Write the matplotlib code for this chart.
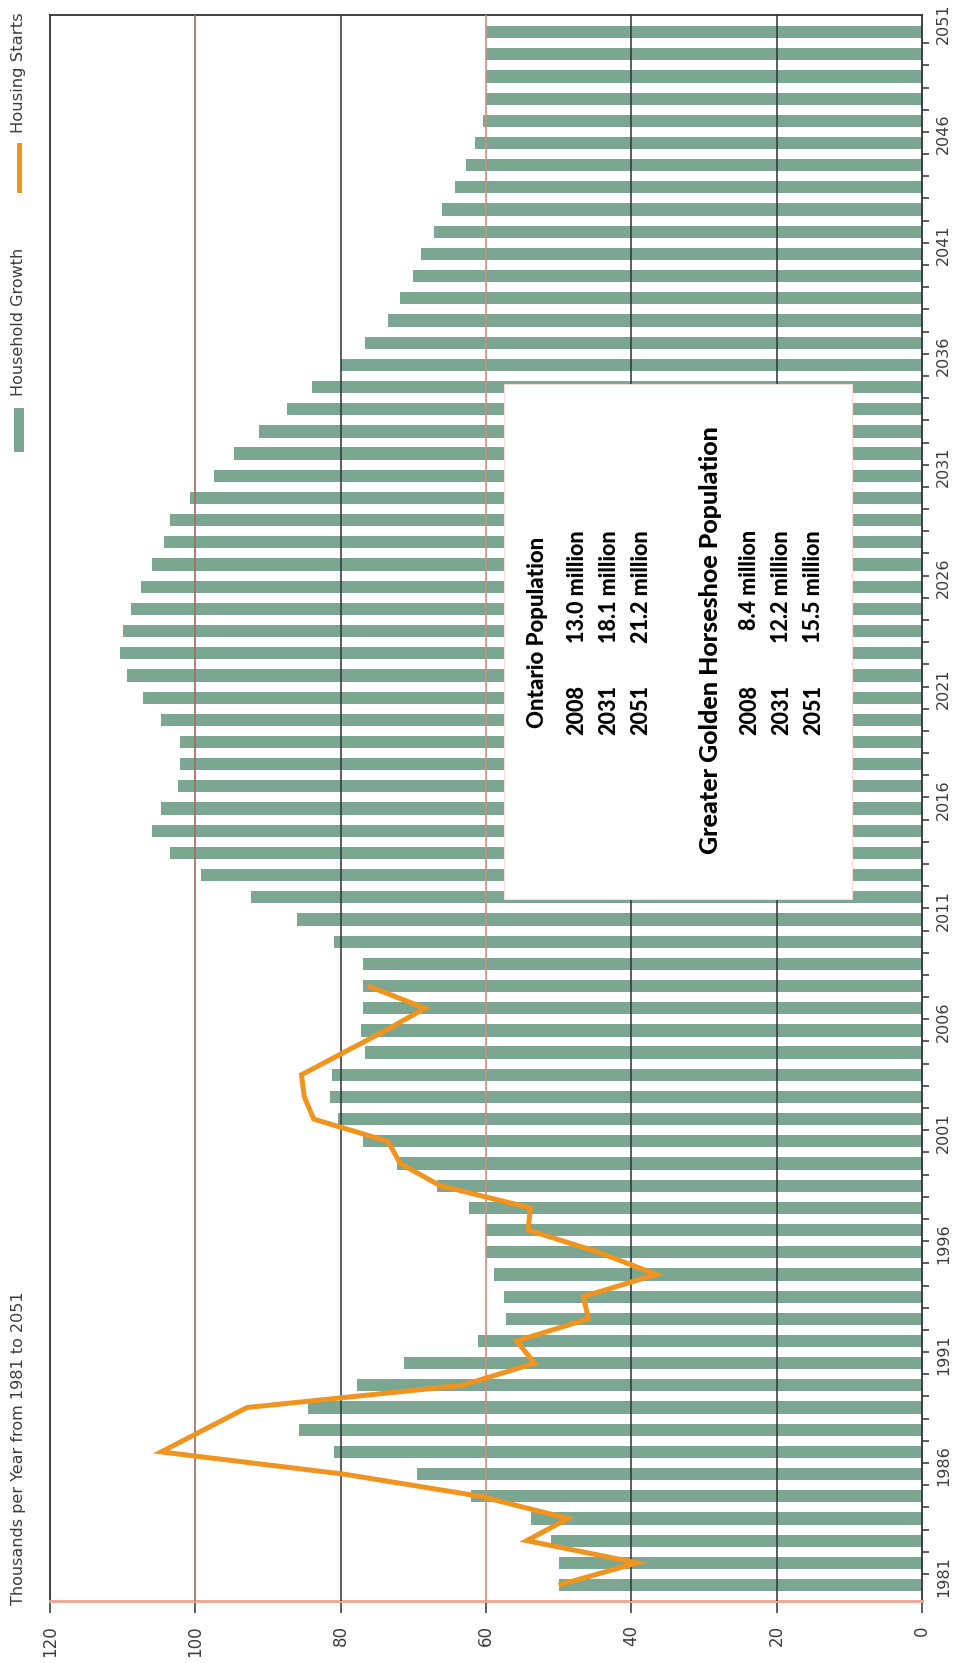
import matplotlib
matplotlib.use('Agg')
import matplotlib.pyplot as plt
from matplotlib.patches import Rectangle
from matplotlib.lines import Line2D
import numpy as np

# household growth, thousands per year, 1981-2051
years = list(range(1981, 2052))
growth = [50.0, 49.9, 51.0, 53.8, 62.1, 69.5, 80.9, 85.7, 84.5, 77.8,
          71.3, 61.1, 57.2, 57.5, 58.9, 60.0, 60.0, 62.4, 66.7, 72.3,
          76.9, 80.3, 81.4, 81.2, 76.7, 77.2, 76.9, 76.9, 76.9, 80.9,
          86.0, 92.4, 99.2, 103.5, 106.0, 104.7, 102.4, 102.1, 102.1, 104.7,
          107.2, 109.4, 110.3, 110.0, 108.9, 107.5, 106.0, 104.3, 103.5, 100.7,
          97.5, 94.7, 91.3, 87.4, 84.0, 79.9, 76.7, 73.5, 71.8, 70.1,
          69.0, 67.1, 66.0, 64.2, 62.8, 61.5, 60.4, 60.0, 60.0, 60.0,
          60.0]

# housing starts, thousands per year, 1981-2008
hs_years = list(range(1981, 2009))
starts = [50.0, 39.2, 54.4, 48.7, 60.8, 79.6, 104.7, 98.8, 92.9, 63.3,
          53.3, 55.8, 45.9, 46.6, 36.6, 44.5, 54.2, 53.9, 66.3, 71.8,
          73.5, 83.7, 85.0, 85.4, 79.6, 73.8, 68.4, 76.2]

year_labels = list(range(1981, 2052, 5))
value_ticks = [0, 20, 40, 60, 80, 100, 120]

ontario_rows = [('2008', '13.0 million'), ('2031', '18.1 million'), ('2051', '21.2 million')]
ggh_rows = [('2008', '8.4 million'), ('2031', '12.2 million'), ('2051', '15.5 million')]

W, H = 966, 1663
GREEN = '#7aa692'
ORANGE = '#f0941f'
DARK = '#2e3338'
TXT = '#3c3c3c'

fig = plt.figure(figsize=(W / 100, H / 100), dpi=100)
fig.patch.set_facecolor('white')


def fx(px):
    return px / W


def fy(py):
    return 1 - py / H


ax = fig.add_axes([fx(50), fy(1601), fx(922) - fx(50), fy(15) - fy(1601)])

ax.barh(years, growth, height=0.55, color=GREEN, zorder=2)
ax.plot(starts, hs_years, color=ORANGE, linewidth=3.6, zorder=4,
        solid_joinstyle='miter', solid_capstyle='butt')

ax.set_xlim(120, 0)
ax.set_ylim(1980.28, 2051.77)

# gridlines drawn over the bars
for v in [20, 40, 80]:
    ax.axvline(v, color=DARK, linewidth=1.1, zorder=3)
ax.axvline(60, color='#d98b78', linewidth=1.2, zorder=3)
ax.axvline(100, color='#9e6c60', linewidth=1.2, zorder=3)

# white text panel over the bars
ax.add_patch(Rectangle((9.6, 2011.93), 47.9, 23.21, facecolor='white',
                       edgecolor='#f4ddd2', linewidth=0.8, zorder=5))

for side in ['top', 'left', 'right']:
    ax.spines[side].set_color(DARK)
    ax.spines[side].set_linewidth(1.3)
ax.spines['bottom'].set_color('#f0a58e')
ax.spines['bottom'].set_linewidth(2)

ax.set_xticks(value_ticks)
ax.set_xticklabels([str(v) for v in value_ticks], rotation=90,
                   fontsize=12, color=TXT)
ax.tick_params(axis='x', direction='out', length=8.5, width=1.1,
               color=DARK, pad=9)

ax.yaxis.tick_right()
ax.set_yticks([y + 0.4 for y in year_labels])
ax.set_yticklabels([str(y) for y in year_labels], rotation=90,
                   fontsize=11.5, color=TXT, va='center')
ax.tick_params(axis='y', which='major', length=0, pad=10)
ax.set_yticks([y + 0.5 for y in years[:-1]], minor=True)
ax.tick_params(axis='y', which='minor', direction='out', length=5,
               width=1.1, color=DARK, right=True, left=False)

# axis title
fig.text(fx(19), fy(1605), 'Thousands per Year from 1981 to 2051',
         rotation=90, rotation_mode='anchor', ha='left', va='center',
         fontsize=11.5, color=TXT)

# legend
fig.text(fx(19), fy(12), 'Housing Starts', rotation=90, rotation_mode='anchor',
         ha='right', va='center', fontsize=11.8, color=TXT)
fig.add_artist(Line2D([fx(19), fx(19)], [fy(145), fy(190)], color=ORANGE,
                      linewidth=3.6, transform=fig.transFigure))
fig.text(fx(19), fy(248), 'Household Growth', rotation=90, rotation_mode='anchor',
         ha='right', va='center', fontsize=11.5, color=TXT)
fig.add_artist(Rectangle((fx(14), fy(452)), fx(10), fy(408) - fy(452),
                         facecolor=GREEN, edgecolor='none',
                         transform=fig.transFigure))

# population panel text
bold = dict(rotation=90, rotation_mode='anchor', va='center',
            family=['Lato', 'DejaVu Sans'], fontweight='black',
            color='black', zorder=6)
fig.text(fx(538), fy(632), 'Ontario Population', ha='center', fontsize=16, **bold)
for (yr, val), col in zip(ontario_rows, [577, 609, 641]):
    fig.text(fx(col), fy(735), yr, ha='left', fontsize=15.5, **bold)
    fig.text(fx(col), fy(530), val, ha='right', fontsize=15.5, **bold)
fig.text(fx(711), fy(640), 'Greater Golden Horseshoe Population', ha='center',
         fontsize=18, **bold)
for (yr, val), col in zip(ggh_rows, [750, 782, 814]):
    fig.text(fx(col), fy(735), yr, ha='left', fontsize=15.5, **bold)
    fig.text(fx(col), fy(530), val, ha='right', fontsize=15.5, **bold)

fig.savefig('out.png', dpi=100, facecolor='white')
